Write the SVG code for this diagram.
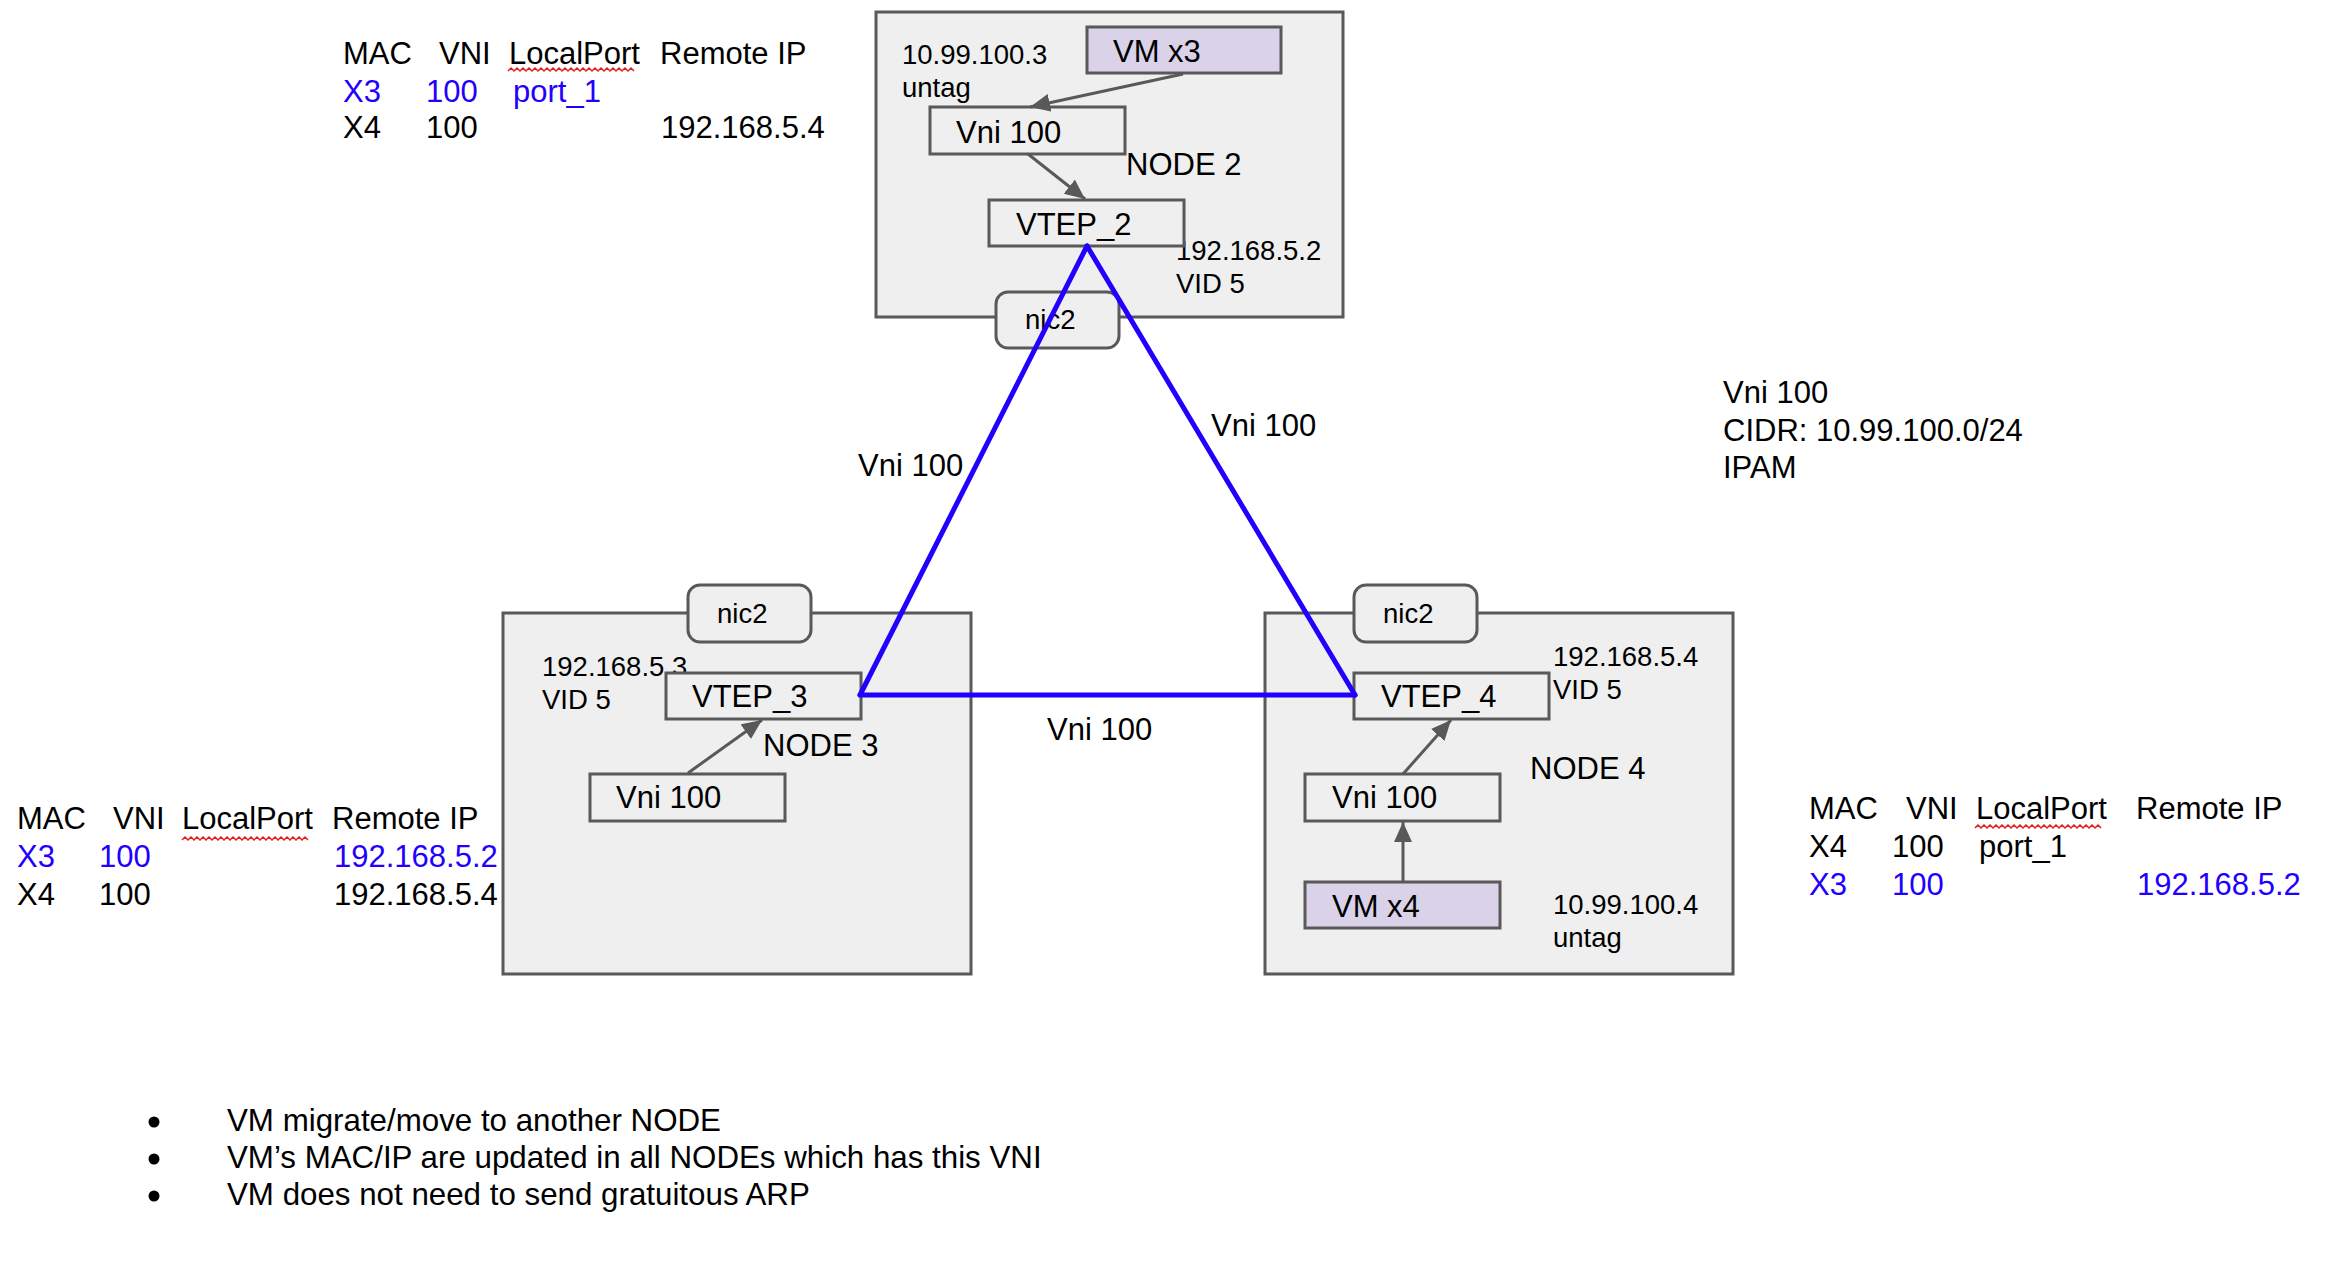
<svg xmlns="http://www.w3.org/2000/svg" width="2342" height="1262" viewBox="0 0 2342 1262">
<defs>
<style>
text{font-family:"Liberation Sans",Arial,sans-serif;fill:#000}
.L{font-size:31px}
.S{font-size:27.5px}
.N{font-size:31.3px}
.b{fill:#2200ff}
.node{fill:#efefef;stroke:#595959;stroke-width:3}
.box{fill:#efefef;stroke:#595959;stroke-width:3}
.vm{fill:#d9d2e9;stroke:#595959;stroke-width:3}
.arr{stroke:#595959;stroke-width:3;fill:none;marker-end:url(#ah)}
.vx{stroke:#2200ff;stroke-width:5;stroke-linecap:round;fill:none}
.sq{stroke:#e0201c;stroke-width:1.5;fill:none}
</style>
<marker id="ah" markerUnits="userSpaceOnUse" markerWidth="22" markerHeight="20" refX="20" refY="9" orient="auto">
<path d="M0,0 L20,9 L0,18 Z" fill="#595959"/>
</marker>
</defs>
<rect width="2342" height="1262" fill="#ffffff"/>

<g id="table-node2">
<text class="L" x="343" y="64">MAC</text>
<text class="L" x="439" y="64">VNI</text>
<text class="L" x="509" y="64">LocalPort</text>
<text class="L" x="660" y="64">Remote IP</text>
<path class="sq" d="M508,71 l3,-3 3,3 3,-3 3,3 3,-3 3,3 3,-3 3,3 3,-3 3,3 3,-3 3,3 3,-3 3,3 3,-3 3,3 3,-3 3,3 3,-3 3,3 3,-3 3,3 3,-3 3,3 3,-3 3,3 3,-3 3,3 3,-3 3,3 3,-3 3,3 3,-3 3,3 3,-3 3,3 3,-3 3,3 3,-3 3,3 3,-3 3,3"/>
<text class="L b" x="343" y="102">X3</text>
<text class="L b" x="426" y="102">100</text>
<text class="L b" x="513" y="102">port_1</text>
<text class="L" x="343" y="138">X4</text>
<text class="L" x="426" y="138">100</text>
<text class="L" x="661" y="138">192.168.5.4</text>
</g>

<g id="table-node3">
<text class="L" x="17" y="829">MAC</text>
<text class="L" x="113" y="829">VNI</text>
<text class="L" x="182" y="829">LocalPort</text>
<text class="L" x="332" y="829">Remote IP</text>
<path class="sq" d="M182,840 l3,-3 3,3 3,-3 3,3 3,-3 3,3 3,-3 3,3 3,-3 3,3 3,-3 3,3 3,-3 3,3 3,-3 3,3 3,-3 3,3 3,-3 3,3 3,-3 3,3 3,-3 3,3 3,-3 3,3 3,-3 3,3 3,-3 3,3 3,-3 3,3 3,-3 3,3 3,-3 3,3 3,-3 3,3 3,-3 3,3 3,-3 3,3"/>
<text class="L b" x="17" y="867">X3</text>
<text class="L b" x="99" y="867">100</text>
<text class="L b" x="334" y="867">192.168.5.2</text>
<text class="L" x="17" y="905">X4</text>
<text class="L" x="99" y="905">100</text>
<text class="L" x="334" y="905">192.168.5.4</text>
</g>

<g id="table-node4">
<text class="L" x="1809" y="819">MAC</text>
<text class="L" x="1906" y="819">VNI</text>
<text class="L" x="1976" y="819">LocalPort</text>
<text class="L" x="2136" y="819">Remote IP</text>
<path class="sq" d="M1975,828 l3,-3 3,3 3,-3 3,3 3,-3 3,3 3,-3 3,3 3,-3 3,3 3,-3 3,3 3,-3 3,3 3,-3 3,3 3,-3 3,3 3,-3 3,3 3,-3 3,3 3,-3 3,3 3,-3 3,3 3,-3 3,3 3,-3 3,3 3,-3 3,3 3,-3 3,3 3,-3 3,3 3,-3 3,3 3,-3 3,3 3,-3 3,3"/>
<text class="L" x="1809" y="857">X4</text>
<text class="L" x="1892" y="857">100</text>
<text class="L" x="1979" y="857">port_1</text>
<text class="L b" x="1809" y="895">X3</text>
<text class="L b" x="1892" y="895">100</text>
<text class="L b" x="2137" y="895">192.168.5.2</text>
</g>

<g id="node2">
<rect class="node" x="876" y="12" width="467" height="305"/>
<rect class="box" x="996" y="292" width="123" height="56" rx="12"/>
<text class="S" x="1025" y="329">nic2</text>
<rect class="vm" x="1087" y="27" width="194" height="46"/>
<text class="L" x="1113" y="62">VM x3</text>
<text class="S" x="902" y="64">10.99.100.3</text>
<text class="S" x="902" y="97">untag</text>
<rect class="box" x="930" y="107" width="195" height="47"/>
<text class="L" x="956" y="143">Vni 100</text>
<text class="L" x="1126" y="175">NODE 2</text>
<text class="S" x="1176" y="260">192.168.5.2</text>
<text class="S" x="1176" y="293">VID 5</text>
<rect class="box" x="989" y="200" width="195" height="46"/>
<text class="L" x="1016" y="235">VTEP_2</text>
</g>

<g id="node3">
<rect class="node" x="503" y="613" width="468" height="361"/>
<rect class="box" x="688" y="585" width="123" height="57" rx="12"/>
<text class="S" x="717" y="623">nic2</text>
<text class="S" x="542" y="676">192.168.5.3</text>
<text class="S" x="542" y="709">VID 5</text>
<rect class="box" x="666" y="673" width="195" height="46"/>
<text class="L" x="692" y="707">VTEP_3</text>
<text class="L" x="763" y="756">NODE 3</text>
<rect class="box" x="590" y="774" width="195" height="47"/>
<text class="L" x="616" y="808">Vni 100</text>
</g>

<g id="node4">
<rect class="node" x="1265" y="613" width="468" height="361"/>
<rect class="box" x="1354" y="585" width="123" height="57" rx="12"/>
<text class="S" x="1383" y="623">nic2</text>
<text class="S" x="1553" y="666">192.168.5.4</text>
<text class="S" x="1553" y="699">VID 5</text>
<rect class="box" x="1354" y="673" width="195" height="46"/>
<text class="L" x="1381" y="707">VTEP_4</text>
<text class="L" x="1530" y="779">NODE 4</text>
<rect class="box" x="1305" y="774" width="195" height="47"/>
<text class="L" x="1332" y="808">Vni 100</text>
<rect class="vm" x="1305" y="882" width="195" height="46"/>
<text class="L" x="1332" y="917">VM x4</text>
<text class="S" x="1553" y="914">10.99.100.4</text>
<text class="S" x="1553" y="947">untag</text>
</g>

<g id="connectors">
<line class="arr" x1="1183" y1="74" x2="1030" y2="107"/>
<line class="arr" x1="1028" y1="154" x2="1085" y2="199"/>
<line class="arr" x1="688" y1="773" x2="762" y2="720"/>
<line class="arr" x1="1403" y1="774" x2="1451" y2="720"/>
<line class="arr" x1="1403" y1="882" x2="1403" y2="822"/>
<line class="vx" x1="1087" y1="246" x2="860" y2="695"/>
<line class="vx" x1="1087" y1="246" x2="1355" y2="695"/>
<line class="vx" x1="860" y1="695" x2="1355" y2="695"/>
<text class="L" x="858" y="476">Vni 100</text>
<text class="L" x="1211" y="436">Vni 100</text>
<text class="L" x="1047" y="740">Vni 100</text>
</g>

<g id="vni-info">
<text class="L" x="1723" y="403">Vni 100</text>
<text class="L" x="1723" y="441">CIDR: 10.99.100.0/24</text>
<text class="L" x="1723" y="478">IPAM</text>
</g>

<g id="notes">
<circle cx="154" cy="1122" r="5.5" fill="#000"/>
<circle cx="154" cy="1159" r="5.5" fill="#000"/>
<circle cx="154" cy="1196" r="5.5" fill="#000"/>
<text class="N" x="227" y="1131">VM migrate/move to another NODE</text>
<text class="N" x="227" y="1168">VM’s MAC/IP are updated in all NODEs which has this VNI</text>
<text class="N" x="227" y="1205">VM does not need to send gratuitous ARP</text>
</g>
</svg>
